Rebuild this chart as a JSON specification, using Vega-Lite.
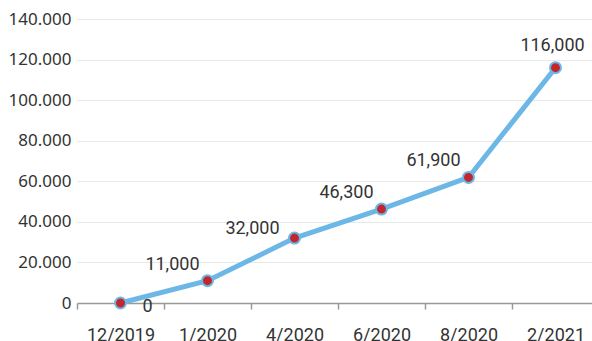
{
  "$schema": "https://vega.github.io/schema/vega-lite/v6.json",
  "autosize": {"type": "none"},
  "padding": {"left": 77, "top": 19, "right": 0, "bottom": 38},
  "width": 515,
  "height": 284,
  "background": "white",
  "config": {
    "view": {"stroke": null},
    "font": "Roboto",
    "axis": {"labelColor": "#333333"}
  },
  "data": {
    "values": [
      {"month": "12/2019", "value": 0},
      {"month": "1/2020", "value": 11000},
      {"month": "4/2020", "value": 32000},
      {"month": "6/2020", "value": 46300},
      {"month": "8/2020", "value": 61900},
      {"month": "2/2021", "value": 116000}
    ]
  },
  "encoding": {
    "x": {
      "field": "month",
      "type": "ordinal",
      "sort": null,
      "scale": {"range": [0, 522], "paddingInner": 0, "paddingOuter": 0},
      "axis": {
        "title": null,
        "labelAngle": 0,
        "labelFont": "Roboto",
        "labelFontSize": 18,
        "domainColor": "#999999",
        "domainWidth": 1.5,
        "tickColor": "#999999",
        "tickWidth": 1.5,
        "tickSize": 6,
        "tickBand": "extent",
        "labelPadding": 17,
        "grid": false
      }
    },
    "y": {
      "field": "value",
      "type": "quantitative",
      "scale": {"domain": [0, 140000]},
      "axis": {
        "title": null,
        "values": [0, 20000, 40000, 60000, 80000, 100000, 120000, 140000],
        "labelExpr": "replace(format(datum.value, ','), regexp(',', 'g'), '.')",
        "labelFont": "Noto Sans",
        "labelFontSize": 17,
        "domain": false,
        "ticks": false,
        "labelPadding": 6,
        "gridColor": "#e8e8e8",
        "gridWidth": 1
      }
    }
  },
  "layer": [
    {
      "mark": {"type": "line", "color": "#6cb7e6", "strokeWidth": 5}
    },
    {
      "mark": {"type": "point", "shape": "circle", "filled": true, "fill": "#c1272d", "stroke": "#6cb7e6", "strokeWidth": 2, "size": 120, "opacity": 1}
    },
    {
      "transform": [{"filter": "datum.value > 0 && datum.value < 100000 && datum.month != '4/2020'"}],
      "mark": {"type": "text", "align": "right", "baseline": "middle", "dx": -8, "dy": -16, "fontSize": 18, "color": "#333333"},
      "encoding": {"text": {"field": "value", "type": "quantitative", "format": ","}}
    },
    {
      "transform": [{"filter": "datum.month == '4/2020'"}],
      "mark": {"type": "text", "align": "right", "baseline": "middle", "dx": -15, "dy": -9, "fontSize": 18, "color": "#333333"},
      "encoding": {"text": {"field": "value", "type": "quantitative", "format": ","}}
    },
    {
      "transform": [{"filter": "datum.value >= 100000"}],
      "mark": {"type": "text", "align": "center", "baseline": "middle", "dx": -3, "dy": -22, "fontSize": 18, "color": "#333333"},
      "encoding": {"text": {"field": "value", "type": "quantitative", "format": ","}}
    },
    {
      "transform": [{"filter": "datum.value == 0"}],
      "mark": {"type": "text", "align": "center", "baseline": "middle", "dx": 27, "dy": 4, "fontSize": 18, "color": "#333333"},
      "encoding": {"text": {"field": "value", "type": "quantitative", "format": ","}}
    }
  ]
}
